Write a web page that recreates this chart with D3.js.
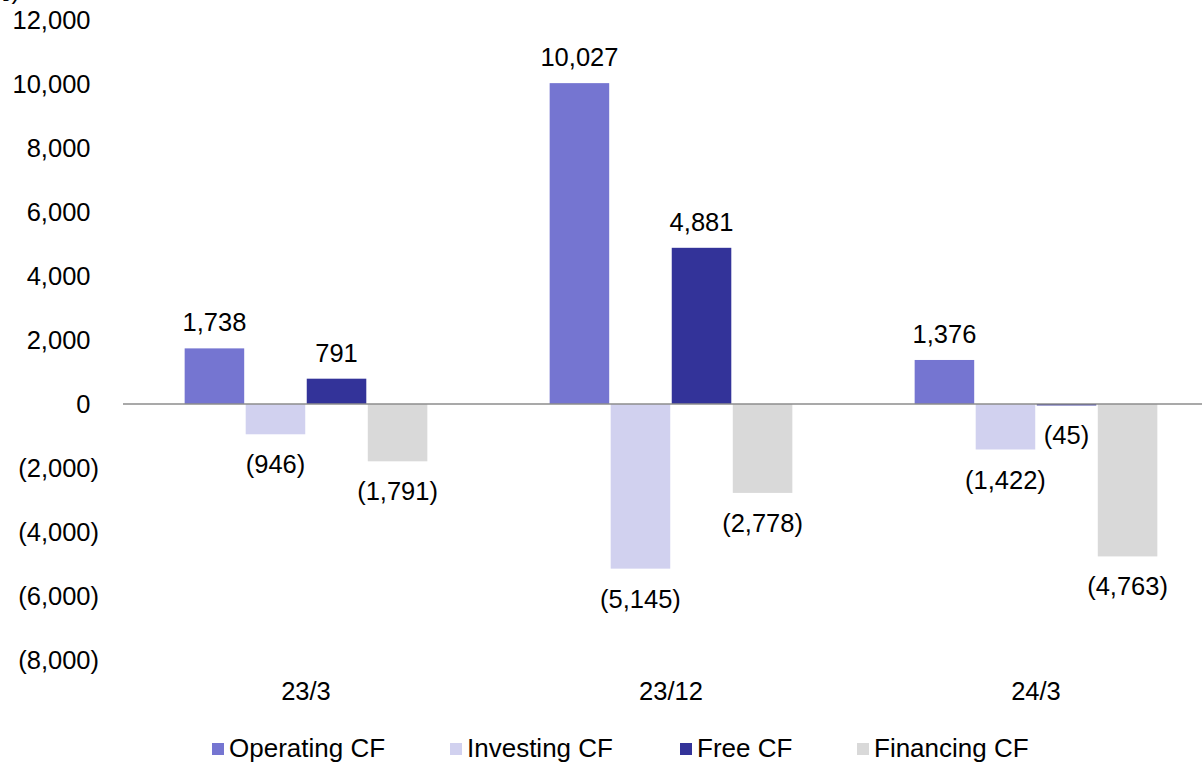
<!DOCTYPE html>
<html>
<head>
<meta charset="utf-8">
<script src="https://cdn.jsdelivr.net/npm/d3@7"></script>
<style>
  html, body { margin: 0; padding: 0; background: #fff; }
  svg { display: block; font-family: "Liberation Sans", Arial, sans-serif; }
</style>
</head>
<body>
<svg id="chart" width="1202" height="764"></svg>
<script>
// Cash flow summary by period (millions of yen)
const periods = ["23/3", "23/12", "24/3"];
const seriesNames = ["Operating CF", "Investing CF", "Free CF", "Financing CF"];
const seriesColors = ["#7575d1", "#d1d1ef", "#333399", "#d9d9d9"];
const operatingCF = [1738, 10027, 1376];
const investingCF = [-946, -5145, -1422];
const freeCF = [791, 4881, -45];
const financingCF = [-1791, -2778, -4763];
const yTicks = [-8000, -6000, -4000, -2000, 0, 2000, 4000, 6000, 8000, 10000, 12000];
const unitLabel = "(百万円)";

const seriesValues = [operatingCF, investingCF, freeCF, financingCF];
const rows = periods.map((p, i) => ({
  period: p,
  values: seriesNames.map((s, j) => ({ series: s, value: seriesValues[j][i], color: seriesColors[j] }))
}));

const svg = d3.select("#chart");
const FS = 25.5;

const y = d3.scaleLinear().domain([-8000, 12000]).range([660, 20]);
const x0 = d3.scaleBand().domain(periods).range([123.5, 1218.5])
  .paddingInner(0.331).paddingOuter(0.1655);
const x1 = d3.scaleBand().domain(seriesNames).range([0, x0.bandwidth()]);

const num = d3.format(",");
const fmt = v => v < 0 ? "(" + num(-v) + ")" : num(v);

// unit caption, partly above the top edge
svg.append("text")
  .attr("x", 20).attr("y", -1.5)
  .attr("text-anchor", "end")
  .attr("font-size", FS)
  .attr("font-family", "'Liberation Sans', 'Noto Sans CJK JP', sans-serif")
  .text(unitLabel);

// y axis labels (accounting style: positives padded by a ")" width)
const yAxis = d3.axisLeft(y).tickValues(yTicks).tickSize(0).tickPadding(0)
  .tickFormat(fmt);
const gy = svg.append("g").attr("transform", "translate(99,0)").call(yAxis);
gy.select(".domain").remove();
gy.selectAll("text")
  .attr("font-size", FS)
  .attr("font-family", "'Liberation Sans', Arial, sans-serif")
  .attr("fill", "#000")
  .attr("dy", "0.35em")
  .each(function(d) {
    if (d >= 0) {
      d3.select(this).append("tspan").attr("fill-opacity", 0).text(")");
    }
  });

// bars
const groups = svg.append("g").selectAll("g").data(rows).join("g")
  .attr("transform", d => `translate(${x0(d.period)},0)`);

groups.selectAll("rect").data(d => d.values).join("rect")
  .attr("x", d => x1(d.series) + 0.75)
  .attr("width", x1.bandwidth() - 1.5)
  .attr("y", d => y(Math.max(0, d.value)))
  .attr("height", d => Math.abs(y(d.value) - y(0)))
  .attr("fill", d => d.color);

// value labels
groups.selectAll("text.val").data(d => d.values).join("text")
  .attr("class", "val")
  .attr("x", d => x1(d.series) + x1.bandwidth() / 2)
  .attr("y", d => d.value >= 0 ? y(d.value) - 17 : y(d.value) + 39)
  .attr("text-anchor", "middle")
  .attr("font-size", FS)
  .attr("fill", "#000")
  .text(d => fmt(d.value));

// zero line
svg.append("line")
  .attr("x1", 123).attr("x2", 1202)
  .attr("y1", y(0)).attr("y2", y(0))
  .attr("stroke", "#8c8c8c").attr("stroke-width", 1.6);

// category labels
svg.append("g").selectAll("text").data(periods).join("text")
  .attr("x", d => x0(d) + x0.bandwidth() / 2)
  .attr("y", 700)
  .attr("text-anchor", "middle")
  .attr("font-size", FS)
  .attr("fill", "#000")
  .text(d => d);

// legend
const legendX = [212, 450, 680, 857];
const legend = svg.append("g").selectAll("g").data(seriesNames).join("g")
  .attr("transform", (d, i) => `translate(${legendX[i]},0)`);
legend.append("rect")
  .attr("x", 0).attr("y", 743).attr("width", 12).attr("height", 12)
  .attr("fill", (d, i) => seriesColors[i]);
legend.append("text")
  .attr("x", 17).attr("y", 757)
  .attr("font-size", 26)
  .attr("fill", "#000")
  .text(d => d);
</script>
</body>
</html>
